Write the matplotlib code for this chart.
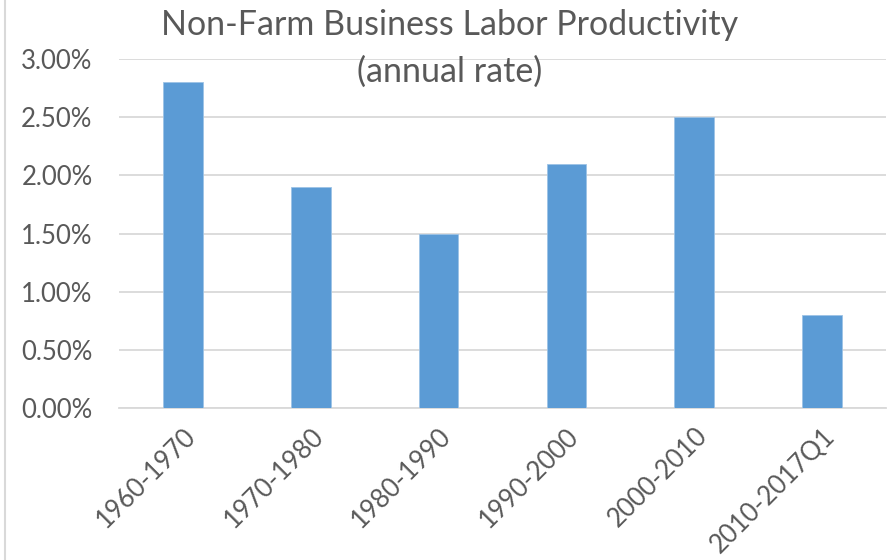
import matplotlib
matplotlib.use("Agg")
import matplotlib.pyplot as plt
from matplotlib.ticker import FuncFormatter, MultipleLocator
from matplotlib.lines import Line2D

periods = ["1960-1970", "1970-1980", "1980-1990", "1990-2000", "2000-2010", "2010-2017Q1"]
growth_pct = [2.8, 1.9, 1.5, 2.1, 2.5, 0.8]

title_lines = ["Non-Farm Business Labor Productivity", "(annual rate)"]

plt.rcParams["font.family"] = ["Lato", "DejaVu Sans"]
text_color = "#595959"
grid_color = "#D9D9D9"
bar_color = "#5B9BD5"

fig = plt.figure(figsize=(8.88, 5.6), dpi=100)
ax = fig.add_axes([119 / 888, 1 - 408 / 560, (886 - 119) / 888, (408 - 59) / 560])

x = range(len(periods))
ax.bar(x, growth_pct, width=0.31, color=bar_color, edgecolor="#9DC3E6", linewidth=0.6, zorder=3)

ax.set_xlim(-0.5, len(periods) - 0.5)
ax.set_ylim(0, 3.0)
ax.yaxis.set_major_locator(MultipleLocator(0.5))
ax.yaxis.set_major_formatter(FuncFormatter(lambda v, p: f"{v:.2f}%"))
ax.grid(axis="y", color=grid_color, linewidth=1.3, zorder=0)
ax.set_axisbelow(True)

for side in ["top", "right", "left"]:
    ax.spines[side].set_visible(False)
ax.spines["bottom"].set_color(grid_color)
ax.spines["bottom"].set_linewidth(1.3)

ax.set_xticks(list(x))
ax.set_xticklabels(periods, rotation=45, ha="right", rotation_mode="anchor",
                   fontsize=18.5, color=text_color)
ax.tick_params(axis="x", length=0, pad=11)
ax.tick_params(axis="y", length=0, pad=19, labelsize=18.5, labelcolor=text_color)

fig.text(450 / 888, 1 - 25 / 560, title_lines[0], ha="center", va="center",
         fontsize=24.5, color=text_color)
fig.text(450 / 888, 1 - 72 / 560, title_lines[1], ha="center", va="center",
         fontsize=24.5, color=text_color)

fig.add_artist(Line2D([5 / 888, 5 / 888], [0, 1], transform=fig.transFigure,
                      color=grid_color, linewidth=1.5))

fig.savefig("out.png", dpi=100)
